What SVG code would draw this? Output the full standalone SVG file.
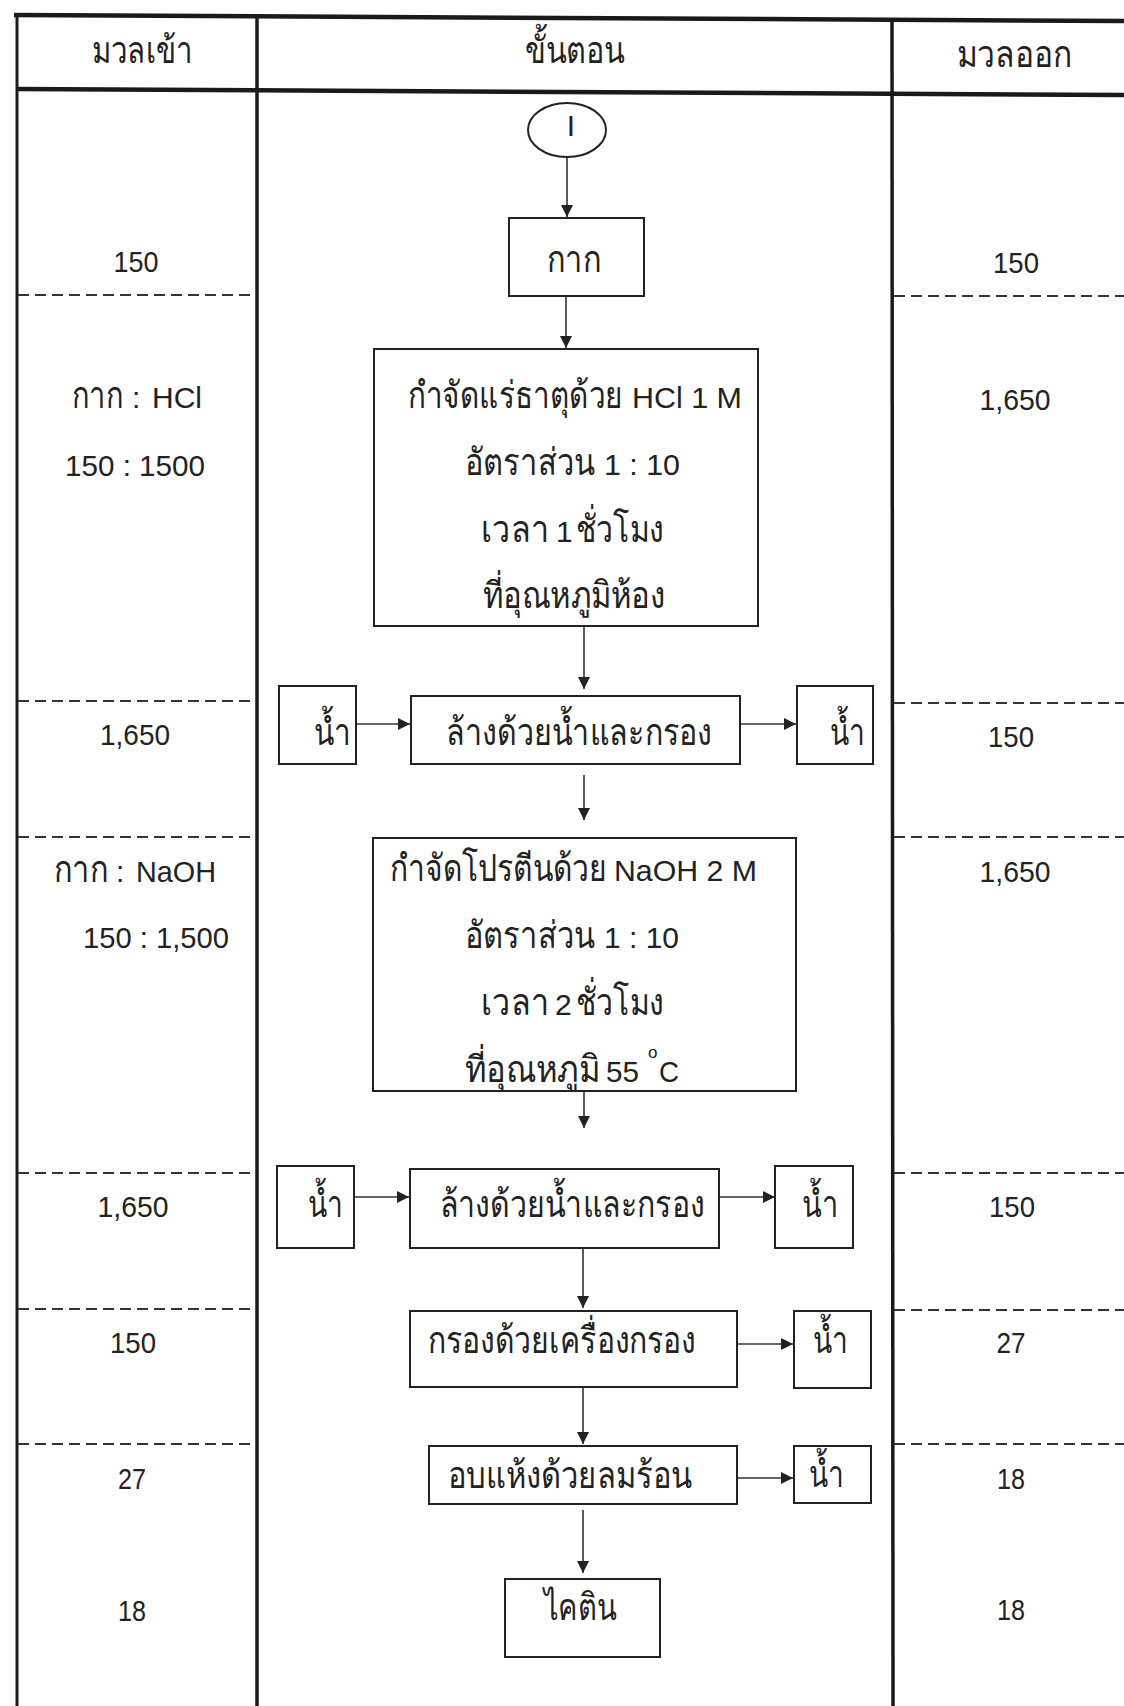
<svg xmlns="http://www.w3.org/2000/svg" width="1124" height="1706" viewBox="0 0 1124 1706">
<style>
  text { font-family: "Liberation Sans", "Noto Sans", "DejaVu Sans", sans-serif; font-size: 30px; fill: #222; text-anchor: middle; }
  .th { font-size: 37px; }
  .st { text-anchor: start; }
  .box { fill: #fff; stroke: #222; stroke-width: 2; }
  .tbl { stroke: #1a1a1a; fill: none; }
  .dash { stroke: #333; stroke-width: 2; stroke-dasharray: 11 6; fill: none; }
  .arr { stroke: #333; stroke-width: 1.6; fill: none; marker-end: url(#ah); }
</style>
<defs>
  <marker id="ah" markerUnits="userSpaceOnUse" markerWidth="13" markerHeight="12" refX="12" refY="6" orient="auto">
    <path d="M0,0 L12,6 L0,12 z" fill="#222"/>
  </marker>
</defs>
<rect width="1124" height="1706" fill="#fff"/>

<g id="table">
  <line class="tbl" x1="14" y1="15" x2="1124" y2="21" stroke-width="4.5"/>
  <line class="tbl" x1="16" y1="89" x2="1124" y2="95" stroke-width="4.5"/>
  <line class="tbl" x1="17" y1="14" x2="17" y2="1706" stroke-width="3"/>
  <line class="tbl" x1="257" y1="15" x2="257" y2="1706" stroke-width="3.5"/>
  <line class="tbl" x1="892" y1="18" x2="893" y2="1706" stroke-width="3.5"/>
  <line class="dash" x1="18" y1="295" x2="255" y2="295"/>
  <line class="dash" x1="894" y1="296" x2="1124" y2="296"/>
  <line class="dash" x1="18" y1="701" x2="255" y2="701"/>
  <line class="dash" x1="894" y1="703" x2="1124" y2="703"/>
  <line class="dash" x1="18" y1="837" x2="255" y2="837"/>
  <line class="dash" x1="894" y1="837" x2="1124" y2="837"/>
  <line class="dash" x1="18" y1="1173" x2="255" y2="1173"/>
  <line class="dash" x1="894" y1="1173" x2="1124" y2="1173"/>
  <line class="dash" x1="18" y1="1309" x2="255" y2="1309"/>
  <line class="dash" x1="894" y1="1310" x2="1124" y2="1310"/>
  <line class="dash" x1="18" y1="1444" x2="255" y2="1444"/>
  <line class="dash" x1="894" y1="1444" x2="1124" y2="1444"/>
</g>

<g id="headers">
  <text class="th" x="142" y="63" textLength="101" lengthAdjust="spacingAndGlyphs">มวลเข้า</text>
  <text class="th" x="575" y="63" textLength="100" lengthAdjust="spacingAndGlyphs">ขั้นตอน</text>
  <text class="th" x="1014" y="67" textLength="115" lengthAdjust="spacingAndGlyphs">มวลออก</text>
</g>

<g id="mass-in">
  <text x="136" y="272" textLength="45" lengthAdjust="spacingAndGlyphs">150</text>
  <text class="st" y="408"><tspan class="th" x="72" textLength="51" lengthAdjust="spacingAndGlyphs">กาก</tspan><tspan x="132">:</tspan><tspan x="152" textLength="50" lengthAdjust="spacingAndGlyphs">HCl</tspan></text>
  <text x="135" y="476" textLength="140" lengthAdjust="spacingAndGlyphs">150 : 1500</text>
  <text x="135" y="745" textLength="70" lengthAdjust="spacingAndGlyphs">1,650</text>
  <text class="st" y="882"><tspan class="th" x="54" textLength="54" lengthAdjust="spacingAndGlyphs">กาก</tspan><tspan x="116">:</tspan><tspan x="136" textLength="80" lengthAdjust="spacingAndGlyphs">NaOH</tspan></text>
  <text x="156" y="948" textLength="146" lengthAdjust="spacingAndGlyphs">150 : 1,500</text>
  <text x="133" y="1217" textLength="71" lengthAdjust="spacingAndGlyphs">1,650</text>
  <text x="133" y="1353" textLength="46" lengthAdjust="spacingAndGlyphs">150</text>
  <text x="132" y="1489" textLength="28" lengthAdjust="spacingAndGlyphs">27</text>
  <text x="132" y="1621" textLength="28" lengthAdjust="spacingAndGlyphs">18</text>
</g>

<g id="mass-out">
  <text x="1016" y="273" textLength="46" lengthAdjust="spacingAndGlyphs">150</text>
  <text x="1015" y="410" textLength="71" lengthAdjust="spacingAndGlyphs">1,650</text>
  <text x="1011" y="747" textLength="46" lengthAdjust="spacingAndGlyphs">150</text>
  <text x="1015" y="882" textLength="71" lengthAdjust="spacingAndGlyphs">1,650</text>
  <text x="1012" y="1217" textLength="46" lengthAdjust="spacingAndGlyphs">150</text>
  <text x="1011" y="1353" textLength="29" lengthAdjust="spacingAndGlyphs">27</text>
  <text x="1011" y="1489" textLength="28" lengthAdjust="spacingAndGlyphs">18</text>
  <text x="1011" y="1620" textLength="28" lengthAdjust="spacingAndGlyphs">18</text>
</g>

<g id="connectors">
  <line class="arr" x1="567" y1="157" x2="567" y2="217"/>
  <line class="arr" x1="566" y1="296" x2="566" y2="348"/>
  <line class="arr" x1="584" y1="626" x2="584" y2="689"/>
  <line class="arr" x1="356" y1="724" x2="410" y2="724"/>
  <line class="arr" x1="740" y1="724" x2="796" y2="724"/>
  <line class="arr" x1="584" y1="775" x2="584" y2="820"/>
  <line class="arr" x1="584" y1="1091" x2="584" y2="1128"/>
  <line class="arr" x1="354" y1="1197" x2="409" y2="1197"/>
  <line class="arr" x1="719" y1="1197" x2="775" y2="1197"/>
  <line class="arr" x1="583" y1="1248" x2="583" y2="1308"/>
  <line class="arr" x1="737" y1="1344" x2="793" y2="1344"/>
  <line class="arr" x1="583" y1="1387" x2="583" y2="1444"/>
  <line class="arr" x1="737" y1="1478" x2="793" y2="1478" stroke-width="2.6"/>
  <line class="arr" x1="583" y1="1510" x2="583" y2="1573"/>
</g>

<g id="start">
  <ellipse cx="567" cy="130" rx="39" ry="27" fill="#fff" stroke="#222" stroke-width="2"/>
  <text x="571" y="136" font-size="26">I</text>
</g>

<g id="node-kak">
  <rect class="box" x="509" y="218" width="135" height="78"/>
  <text class="th" x="574" y="272" textLength="54" lengthAdjust="spacingAndGlyphs">กาก</text>
</g>

<g id="node-hcl">
  <rect class="box" x="374" y="349" width="384" height="277"/>
  <text class="st" y="408"><tspan class="th" x="408" textLength="215" lengthAdjust="spacingAndGlyphs">กำจัดแร่ธาตุด้วย</tspan><tspan x="632" textLength="110" lengthAdjust="spacingAndGlyphs">HCl 1 M</tspan></text>
  <text class="st" y="475"><tspan class="th" x="465" textLength="130" lengthAdjust="spacingAndGlyphs">อัตราส่วน</tspan><tspan x="604" textLength="76" lengthAdjust="spacingAndGlyphs">1 : 10</tspan></text>
  <text class="st" y="542"><tspan class="th" x="481" textLength="68" lengthAdjust="spacingAndGlyphs">เวลา</tspan><tspan x="556">1</tspan><tspan class="th" x="576" textLength="88" lengthAdjust="spacingAndGlyphs">ชั่วโมง</tspan></text>
  <text class="th" x="574" y="608" textLength="182" lengthAdjust="spacingAndGlyphs">ที่อุณหภูมิห้อง</text>
</g>

<g id="water-in-1">
  <rect class="box" x="279" y="686" width="77" height="78"/>
  <text class="th" x="332" y="745" textLength="37" lengthAdjust="spacingAndGlyphs">น้ำ</text>
</g>

<g id="node-wash-1">
  <rect class="box" x="411" y="696" width="329" height="68"/>
  <text class="th" x="579" y="745" textLength="266" lengthAdjust="spacingAndGlyphs">ล้างด้วยน้ำและกรอง</text>
</g>

<g id="water-out-1">
  <rect class="box" x="797" y="686" width="76" height="78"/>
  <text class="th" x="847" y="745" textLength="35" lengthAdjust="spacingAndGlyphs">น้ำ</text>
</g>

<g id="node-naoh">
  <rect class="box" x="373" y="838" width="423" height="253"/>
  <text class="st" y="881"><tspan class="th" x="390" textLength="217" lengthAdjust="spacingAndGlyphs">กำจัดโปรตีนด้วย</tspan><tspan x="614" textLength="143" lengthAdjust="spacingAndGlyphs">NaOH 2 M</tspan></text>
  <text class="st" y="948"><tspan class="th" x="465" textLength="130" lengthAdjust="spacingAndGlyphs">อัตราส่วน</tspan><tspan x="604" textLength="75" lengthAdjust="spacingAndGlyphs">1 : 10</tspan></text>
  <text class="st" y="1015"><tspan class="th" x="481" textLength="68" lengthAdjust="spacingAndGlyphs">เวลา</tspan><tspan x="555">2</tspan><tspan class="th" x="576" textLength="88" lengthAdjust="spacingAndGlyphs">ชั่วโมง</tspan></text>
  <text class="st" y="1082"><tspan class="th" x="465" textLength="135" lengthAdjust="spacingAndGlyphs">ที่อุณหภูมิ</tspan><tspan x="606" textLength="33" lengthAdjust="spacingAndGlyphs">55</tspan><tspan x="648" y="1058" font-size="17">o</tspan><tspan x="659" y="1082" textLength="20" lengthAdjust="spacingAndGlyphs">C</tspan></text>
</g>

<g id="water-in-2">
  <rect class="box" x="277" y="1166" width="77" height="82"/>
  <text class="th" x="325" y="1217" textLength="35" lengthAdjust="spacingAndGlyphs">น้ำ</text>
</g>

<g id="node-wash-2">
  <rect class="box" x="410" y="1169" width="309" height="79"/>
  <text class="th" x="572" y="1217" textLength="265" lengthAdjust="spacingAndGlyphs">ล้างด้วยน้ำและกรอง</text>
</g>

<g id="water-out-2">
  <rect class="box" x="775" y="1166" width="78" height="82"/>
  <text class="th" x="820" y="1217" textLength="36" lengthAdjust="spacingAndGlyphs">น้ำ</text>
</g>

<g id="node-filter">
  <rect class="box" x="410" y="1311" width="327" height="76"/>
  <text class="th" x="562" y="1353" textLength="268" lengthAdjust="spacingAndGlyphs">กรองด้วยเครื่องกรอง</text>
</g>

<g id="water-out-3">
  <rect class="box" x="794" y="1311" width="77" height="77"/>
  <text class="th" x="830" y="1353" textLength="35" lengthAdjust="spacingAndGlyphs">น้ำ</text>
</g>

<g id="node-dry">
  <rect class="box" x="429" y="1446" width="308" height="58"/>
  <text class="th" x="570" y="1488" textLength="244" lengthAdjust="spacingAndGlyphs">อบแห้งด้วยลมร้อน</text>
</g>

<g id="water-out-4">
  <rect class="box" x="794" y="1446" width="77" height="57"/>
  <text class="th" x="826" y="1487" textLength="35" lengthAdjust="spacingAndGlyphs">น้ำ</text>
</g>

<g id="node-chitin">
  <rect class="box" x="505" y="1579" width="155" height="78"/>
  <text class="th" x="580" y="1620" textLength="73" lengthAdjust="spacingAndGlyphs">ไคติน</text>
</g>
</svg>
